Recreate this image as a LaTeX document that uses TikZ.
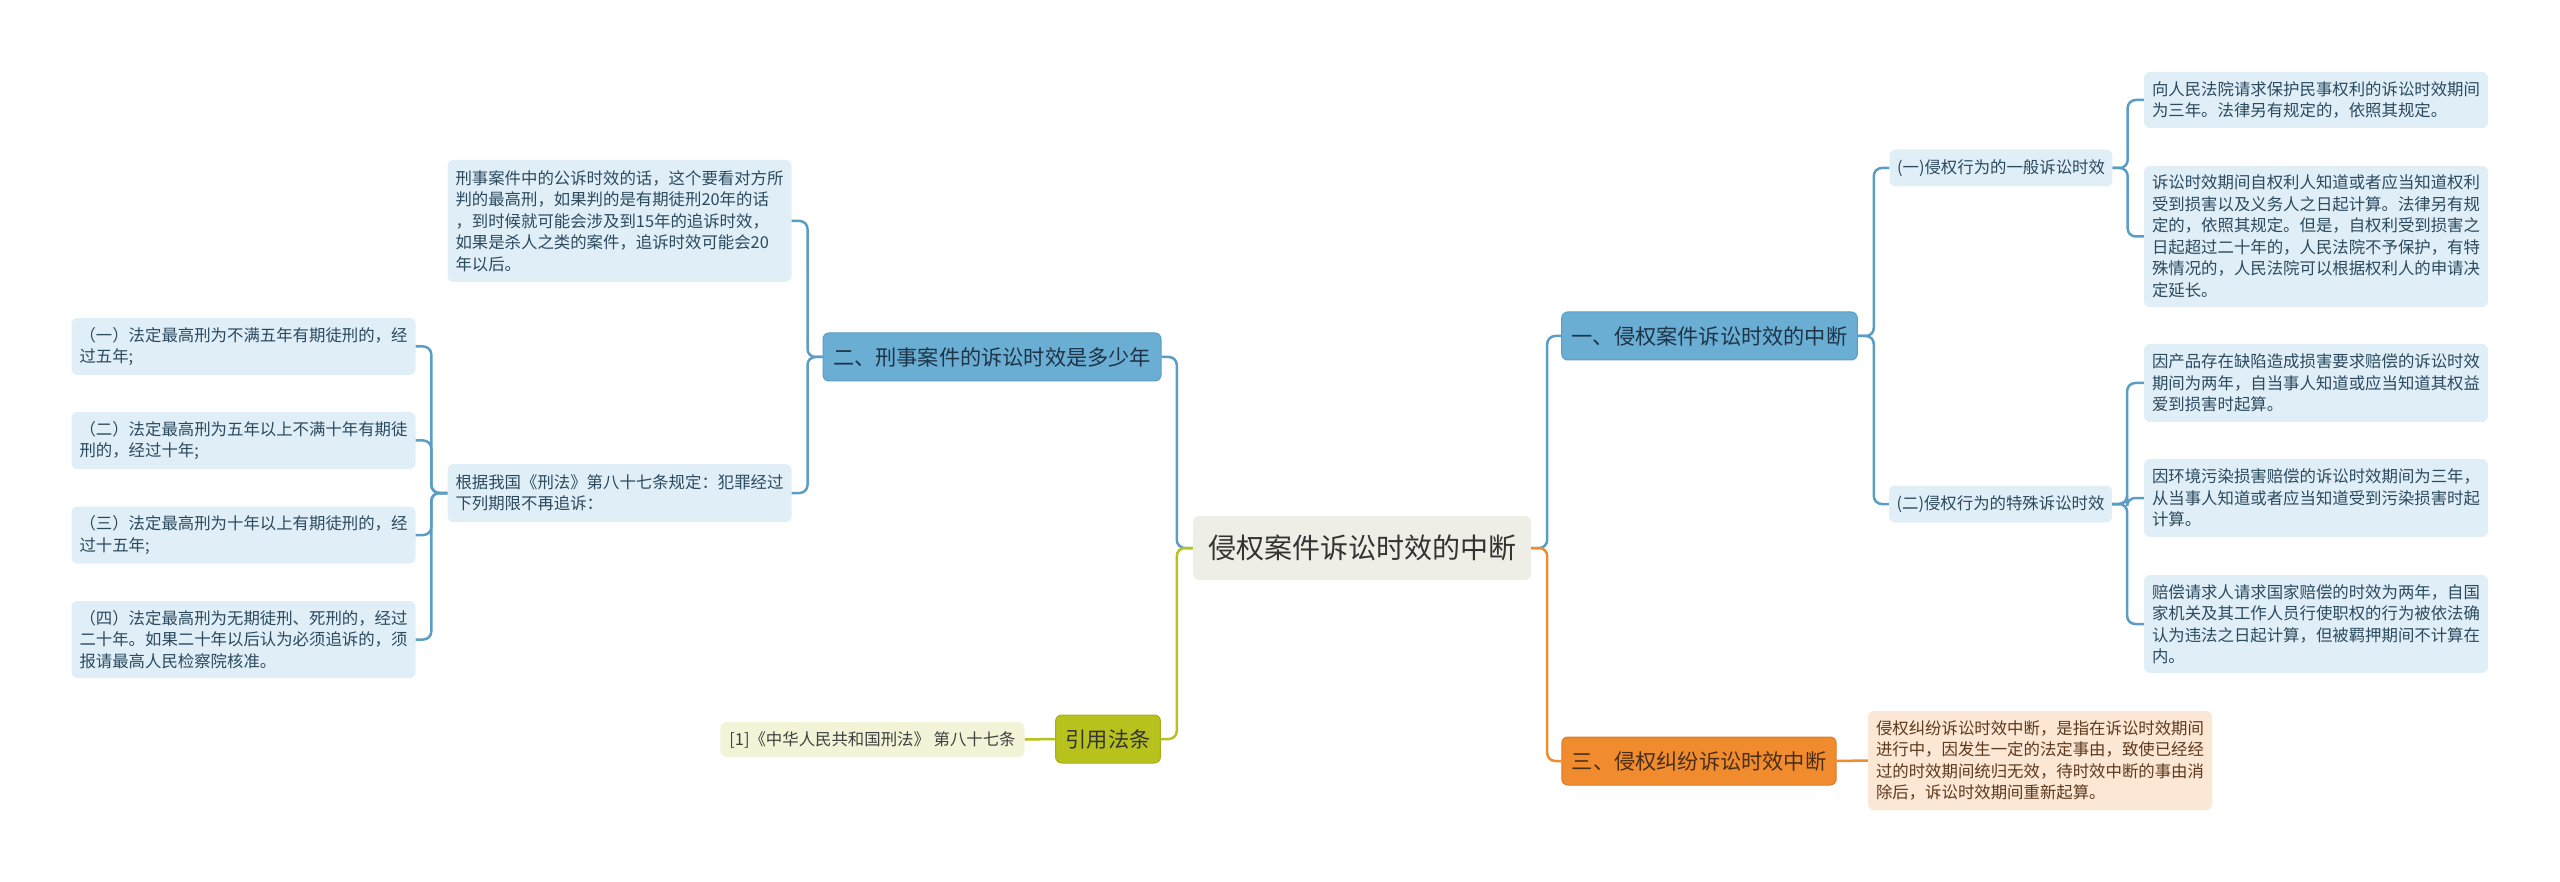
\documentclass[tikz,border=0pt]{standalone}
\usepackage{fontspec}
\setmainfont{Noto Sans CJK SC}
\definecolor{rootfill}{HTML}{EEEEE6}
\definecolor{bluefill}{HTML}{6AAED4}
\definecolor{bluedraw}{HTML}{5B9DC4}
\definecolor{bluetext}{HTML}{1E3446}
\definecolor{paleblue}{HTML}{E0EEF7}
\definecolor{leaftext}{HTML}{2B4A5E}
\definecolor{olivefill}{HTML}{B8C21C}
\definecolor{paleolive}{HTML}{F3F3D8}
\definecolor{orangefill}{HTML}{F08B2E}
\definecolor{paleorange}{HTML}{FCE6D4}
\definecolor{orangetext}{HTML}{5C3A1E}
\tikzset{
  box/.style={rounded corners=6pt, inner ysep=0pt},
  rootbox/.style={box, fill=rootfill, text=black!80, inner xsep=15pt, minimum height=64pt, font=\fontsize{28}{34}\selectfont},
  branch/.style={box, inner xsep=10pt, minimum height=48pt, line width=1pt, font=\fontsize{21.2}{26}\selectfont},
  bluebranch/.style={branch, fill=bluefill, draw=bluedraw, text=bluetext},
  olivebranch/.style={branch, fill=olivefill, draw=olivefill!90!black, text=black!80},
  orangebranch/.style={branch, fill=orangefill, draw=orangefill!90!black, text=orangetext!80!black},
  sub/.style={box, fill=paleblue, text=leaftext, inner xsep=7.5pt, minimum height=37pt, font=\fontsize{16.4}{21.5}\selectfont},
  leaf/.style={box, inner xsep=8pt, text width=328pt, align=left, font=\fontsize{16.4}{21.5}\selectfont},
  blueleaf/.style={leaf, fill=paleblue, text=leaftext},
  orangeleaf/.style={leaf, fill=paleorange, text=orangetext},
  oliveleaf/.style={box, fill=paleolive, text=black!75, inner xsep=9pt, minimum height=35pt, font=\fontsize{16.4}{21.5}\selectfont},
  link/.style={line width=2.5pt, rounded corners=8pt},
  bline/.style={link, draw=bluedraw},
  gline/.style={link, draw=olivefill},
  oline/.style={link, draw=orangefill}
}
\begin{document}
\begin{tikzpicture}[x=1pt, y=-1pt]
\useasboundingbox (0,0) rectangle (2560,882);

\node[rootbox] (root) at (1362,548) {侵权案件诉讼时效的中断};

\node[bluebranch] (two) at (992,357) {二、刑事案件的诉讼时效是多少年};
\node[olivebranch] (law) at (1108,739) {引用法条};
\node[bluebranch] (one) at (1709.5,336) {一、侵权案件诉讼时效的中断};
\node[orangebranch] (three) at (1699,761) {三、侵权纠纷诉讼时效中断};

\node[oliveleaf] (lawref) at (872.5,739.5) {[1]《中华人民共和国刑法》 第八十七条};

\node[blueleaf, minimum height=122pt] (l1) at (619.5,221) {刑事案件中的公诉时效的话，这个要看对方所\\判的最高刑，如果判的是有期徒刑20年的话\\，到时候就可能会涉及到15年的追诉时效，\\如果是杀人之类的案件，追诉时效可能会20\\年以后。};
\node[blueleaf, minimum height=58pt] (l2) at (619.5,493) {根据我国《刑法》第八十七条规定：犯罪经过\\下列期限不再追诉：};
\node[blueleaf, minimum height=57pt] (l3) at (243.5,346.5) {（一）法定最高刑为不满五年有期徒刑的，经\\过五年;};
\node[blueleaf, minimum height=57pt] (l4) at (243.5,440.5) {（二）法定最高刑为五年以上不满十年有期徒\\刑的，经过十年;};
\node[blueleaf, minimum height=57pt] (l5) at (243.5,535) {（三）法定最高刑为十年以上有期徒刑的，经\\过十五年;};
\node[blueleaf, minimum height=77pt] (l6) at (243.5,639.5) {（四）法定最高刑为无期徒刑、死刑的，经过\\二十年。如果二十年以后认为必须追诉的，须\\报请最高人民检察院核准。};

\node[sub] (gen) at (2001,168) {(一)侵权行为的一般诉讼时效};
\node[sub] (spec) at (2000.5,504) {(二)侵权行为的特殊诉讼时效};

\node[blueleaf, minimum height=56pt] (r1) at (2316,100) {向人民法院请求保护民事权利的诉讼时效期间\\为三年。法律另有规定的，依照其规定。};
\node[blueleaf, minimum height=141pt] (r2) at (2316,236.5) {诉讼时效期间自权利人知道或者应当知道权利\\受到损害以及义务人之日起计算。法律另有规\\定的，依照其规定。但是，自权利受到损害之\\日起超过二十年的，人民法院不予保护，有特\\殊情况的，人民法院可以根据权利人的申请决\\定延长。};
\node[blueleaf, minimum height=78pt] (r3) at (2316,383) {因产品存在缺陷造成损害要求赔偿的诉讼时效\\期间为两年，自当事人知道或应当知道其权益\\爱到损害时起算。};
\node[blueleaf, minimum height=78pt] (r4) at (2316,498) {因环境污染损害赔偿的诉讼时效期间为三年，\\从当事人知道或者应当知道受到污染损害时起\\计算。};
\node[blueleaf, minimum height=98pt] (r5) at (2316,624) {赔偿请求人请求国家赔偿的时效为两年，自国\\家机关及其工作人员行使职权的行为被依法确\\认为违法之日起计算，但被羁押期间不计算在\\内。};
\node[orangeleaf, minimum height=99pt] (o1) at (2040,760.5) {侵权纠纷诉讼时效中断，是指在诉讼时效期间\\进行中，因发生一定的法定事由，致使已经经\\过的时效期间统归无效，待时效中断的事由消\\除后，诉讼时效期间重新起算。};

\draw[bline] (root.west) -- ++(-16,0) |- (two.east);
\draw[gline] (root.west) -- ++(-16,0) |- (law.east);
\draw[gline] (law.west) -- (lawref.east);
\draw[bline] (two.west) -- ++(-15,0) |- (l1.east);
\draw[bline] (two.west) -- ++(-15,0) |- (l2.east);
\foreach \k in {l3,l4,l5,l6}
  \draw[bline] (l2.west) -- ++(-16,0) |- (\k.east);

\draw[bline] (root.east) -- ++(16,0) |- (one.west);
\draw[oline] (root.east) -- ++(16,0) |- (three.west);
\draw[oline] (three.east) -- (o1.west);
\draw[bline] (one.east) -- ++(16,0) |- (gen.west);
\draw[bline] (one.east) -- ++(16,0) |- (spec.west);
\foreach \k in {r1,r2}
  \draw[bline] (gen.east) -- ++(15,0) |- (\k.west);
\foreach \k in {r3,r4,r5}
  \draw[bline] (spec.east) -- ++(15,0) |- (\k.west);
\end{tikzpicture}
\end{document}
